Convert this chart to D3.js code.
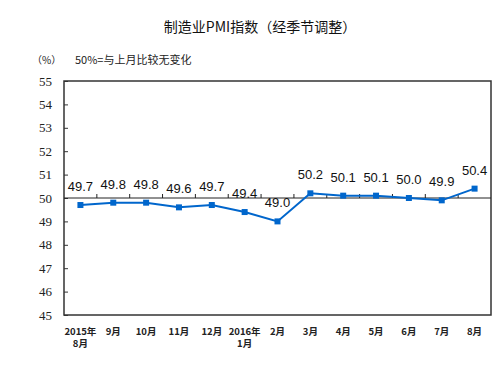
<!DOCTYPE html>
<html>
<head>
<meta charset="utf-8">
<script src="https://cdn.jsdelivr.net/npm/d3@7"></script>
<style>
  body { margin: 0; background: #fff; }
</style>
</head>
<body>
<svg id="chart" width="498" height="367"></svg>
<script>
// monthly PMI, seasonally adjusted
const months = ["2015年\n8月", "9月", "10月", "11月", "12月", "2016年\n1月", "2月", "3月", "4月", "5月", "6月", "7月", "8月"];
const pmi = [49.7, 49.8, 49.8, 49.6, 49.7, 49.4, 49.0, 50.2, 50.1, 50.1, 50.0, 49.9, 50.4];
const yTicks = [45, 46, 47, 48, 49, 50, 51, 52, 53, 54, 55];

const margin = { top: 81, right: 7, bottom: 52, left: 64 };
const width = 498 - margin.left - margin.right,
  height = 367 - margin.top - margin.bottom;

const svg = d3.select("#chart");
const g = svg.append("g")
  .attr("transform", "translate(" + margin.left + "," + margin.top + ")");

const x = d3.scaleBand().domain(months).range([0, width]);
const y = d3.scaleLinear().domain([45, 55]).range([height, 0]);

// title + notes
svg.append("text")
  .attr("x", 260).attr("y", 32)
  .attr("text-anchor", "middle")
  .attr("font-family", "Noto Sans CJK SC")
  .attr("font-size", 14)
  .attr("fill", "#111")
  .text("制造业PMI指数（经季节调整）");

svg.append("text")
  .attr("x", 32).attr("y", 64)
  .attr("font-family", "Noto Sans CJK SC")
  .attr("font-size", 10)
  .attr("fill", "#222")
  .text("（%）");

svg.append("text")
  .attr("x", 75).attr("y", 64)
  .attr("font-family", "Noto Sans CJK SC")
  .attr("font-size", 11)
  .attr("fill", "#222")
  .text("50%=与上月比较无变化");

// y axis with inward ticks
const yAxis = g.append("g")
  .call(d3.axisRight(y).tickValues(yTicks).tickSize(4).tickFormat(""));
yAxis.select(".domain").remove();
yAxis.selectAll("line").attr("stroke", "#333");

g.append("g").selectAll("text")
  .data(yTicks)
  .join("text")
  .attr("x", -12)
  .attr("y", d => y(d))
  .attr("dy", "0.35em")
  .attr("text-anchor", "end")
  .attr("font-family", "Liberation Serif")
  .attr("font-size", 13)
  .attr("fill", "#222")
  .text(d => d);

// frame
g.append("rect")
  .attr("width", width).attr("height", height)
  .attr("fill", "none")
  .attr("stroke", "#333")
  .attr("stroke-width", 1.5);

// 50 line with category boundary ticks
g.append("line")
  .attr("x1", 0).attr("x2", width)
  .attr("y1", y(50)).attr("y2", y(50))
  .attr("stroke", "#222").attr("stroke-width", 1);

g.append("g").selectAll("line")
  .data(months.slice(1))
  .join("line")
  .attr("x1", d => x(d)).attr("x2", d => x(d))
  .attr("y1", y(50)).attr("y2", y(50) - 4)
  .attr("stroke", "#222");

// x labels
const xl = g.append("g").selectAll("text")
  .data(months)
  .join("text")
  .attr("x", d => x(d) + x.bandwidth() / 2)
  .attr("y", height + 20)
  .attr("text-anchor", "middle")
  .attr("font-family", "Noto Sans CJK SC")
  .attr("font-weight", "bold")
  .attr("font-size", 9.5)
  .attr("fill", "#222");
xl.each(function (d) {
  const parts = d.split("\n");
  d3.select(this).selectAll("tspan")
    .data(parts)
    .join("tspan")
    .attr("x", x(d) + x.bandwidth() / 2)
    .attr("dy", (p, i) => i === 0 ? 0 : 12)
    .text(p => p);
});

// line + markers
const line = d3.line()
  .x((d, i) => x(months[i]) + x.bandwidth() / 2)
  .y(d => y(d));

g.append("path")
  .datum(pmi)
  .attr("fill", "none")
  .attr("stroke", "#0066cc")
  .attr("stroke-width", 2)
  .attr("d", line);

g.append("g").selectAll("rect")
  .data(pmi)
  .join("rect")
  .attr("x", (d, i) => x(months[i]) + x.bandwidth() / 2 - 3)
  .attr("y", d => y(d) - 3)
  .attr("width", 6).attr("height", 6)
  .attr("fill", "#0066cc");

// value labels
g.append("g").selectAll("text")
  .data(pmi)
  .join("text")
  .attr("x", (d, i) => x(months[i]) + x.bandwidth() / 2)
  .attr("y", d => y(d) - 14)
  .attr("text-anchor", "middle")
  .attr("font-family", "Liberation Sans")
  .attr("font-size", 13)
  .attr("fill", "#111")
  .text(d => d.toFixed(1));
</script>
</body>
</html>
